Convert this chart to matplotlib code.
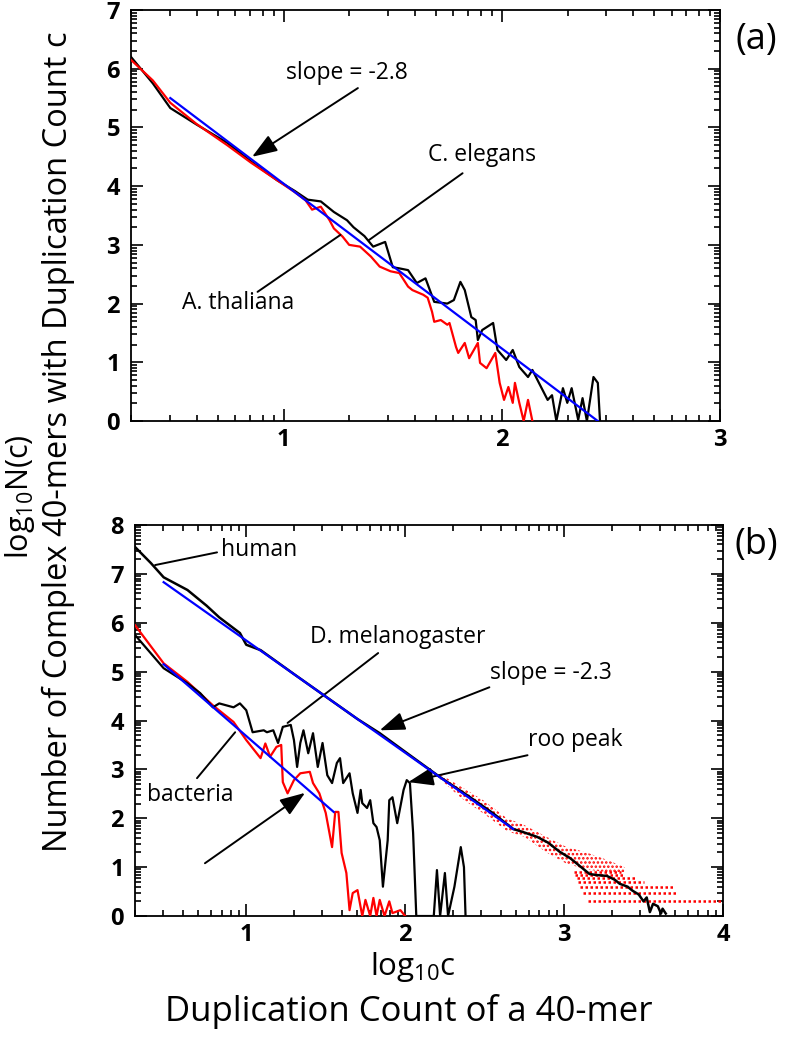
import numpy as np
import matplotlib
matplotlib.use("Agg")
import matplotlib.pyplot as plt

plt.rcParams["font.family"] = ["Open Sans", "DejaVu Sans"]
plt.rcParams["mathtext.fontset"] = "custom"
plt.rcParams["mathtext.rm"] = "Open Sans"
plt.rcParams["mathtext.it"] = "Open Sans"
plt.rcParams["hatch.linewidth"] = 1.2

# ---- panel (a) data: log10 c vs log10 N(c) ----
eleg_x = [0.30, 0.40, 0.48, 0.60, 0.74, 0.85, 0.97, 1.05, 1.11, 1.17, 1.23, 1.29, 1.32, 1.37,
          1.41, 1.465, 1.50, 1.53, 1.57, 1.61, 1.65, 1.69, 1.75, 1.78, 1.81, 1.83, 1.86, 1.88,
          1.89, 1.91, 1.96, 1.98, 2.02, 2.05, 2.08, 2.12, 2.14, 2.17, 2.21, 2.23, 2.25, 2.28,
          2.30, 2.32, 2.35, 2.37, 2.39, 2.42, 2.44, 2.45]
eleg_y = [6.20, 5.75, 5.33, 5.05, 4.74, 4.42, 4.10, 3.92, 3.77, 3.74, 3.56, 3.42, 3.30, 3.15,
          2.97, 3.05, 2.62, 2.60, 2.57, 2.35, 2.43, 2.03, 2.00, 2.06, 2.37, 2.23, 1.77, 1.72,
          1.38, 1.55, 1.67, 1.21, 1.04, 1.21, 0.92, 0.75, 0.87, 0.65, 0.36, 0.44, 0.00, 0.56,
          0.31, 0.56, 0.02, 0.39, 0.00, 0.75, 0.65, 0.00]

thal_x = [0.30, 0.40, 0.48, 0.60, 0.74, 0.85, 0.97, 1.05, 1.10, 1.13, 1.17, 1.21, 1.23, 1.27,
          1.30, 1.35, 1.40, 1.44, 1.49, 1.53, 1.57, 1.59, 1.64, 1.66, 1.68, 1.69, 1.72, 1.75,
          1.76, 1.79, 1.80, 1.83, 1.85, 1.89, 1.90, 1.93, 1.97, 1.99, 2.01, 2.03, 2.05, 2.06,
          2.08, 2.10, 2.12, 2.14]
thal_y = [6.15, 5.80, 5.42, 5.06, 4.70, 4.40, 4.10, 3.90, 3.76, 3.60, 3.65, 3.42, 3.28, 3.14,
          3.00, 2.97, 2.80, 2.63, 2.55, 2.52, 2.29, 2.23, 2.15, 2.10, 1.86, 1.69, 1.72, 1.64,
          1.67, 1.26, 1.16, 1.33, 1.07, 1.33, 0.99, 0.90, 1.16, 0.65, 0.36, 0.58, 0.31, 0.65,
          0.31, 0.00, 0.36, 0.00]

fit_a_x = [0.48, 2.44]
fit_a_y = [5.50, 0.00]

# ---- panel (b) data ----
human_x = [0.30, 0.40, 0.48, 0.63, 0.75, 0.83, 0.96, 1.00, 1.09, 1.30, 1.50, 1.70, 1.84, 2.00,
           2.22, 2.40, 2.55, 2.68, 2.74, 2.83, 2.90, 2.97, 3.04, 3.10, 3.16, 3.20, 3.27, 3.32,
           3.35, 3.40, 3.43, 3.47, 3.50, 3.52, 3.54, 3.56, 3.59, 3.61, 3.62, 3.64]
human_y = [7.55, 7.22, 6.93, 6.67, 6.35, 6.11, 5.79, 5.55, 5.44, 4.95, 4.49, 4.03, 3.74, 3.36,
           2.84, 2.45, 2.11, 1.78, 1.72, 1.62, 1.50, 1.32, 1.18, 1.02, 0.86, 0.84, 0.82, 0.74,
           0.66, 0.60, 0.52, 0.44, 0.30, 0.38, 0.08, 0.25, 0.20, 0.05, 0.15, 0.05]

# raw human counts: scatter cloud around the curve, and the flat count levels at high c
cloud_x = [2.22, 2.35, 2.50, 2.64, 2.75, 2.89, 3.01, 3.14, 3.27, 3.38]
cloud_hi = [2.90, 2.65, 2.35, 2.00, 1.86, 1.62, 1.42, 1.30, 1.15, 1.00]
cloud_lo = [2.80, 2.42, 2.08, 1.74, 1.62, 1.30, 1.08, 0.95, 0.90, 0.90]
band_count = [2, 3, 4, 5, 6, 7, 8]
band_start = [3.15, 3.12, 3.10, 3.09, 3.08, 3.07, 3.06]
band_end = [4.00, 3.71, 3.69, 3.50, 3.46, 3.38, 3.36]

fit_h_x = [0.48, 2.68]
fit_h_y = [6.83, 1.78]

bact_x = [0.30, 0.48, 0.63, 0.79, 0.92, 1.00, 1.09, 1.12, 1.15, 1.19, 1.22, 1.23, 1.26, 1.30,
          1.34, 1.40, 1.42, 1.46, 1.50, 1.54, 1.56, 1.58, 1.60, 1.63, 1.65, 1.67, 1.70, 1.73,
          1.75, 1.78, 1.80, 1.82, 1.84, 1.87, 1.90, 1.92, 1.97, 2.00]
bact_y = [5.95, 5.17, 4.79, 4.31, 3.97, 3.60, 3.23, 3.53, 3.26, 3.46, 3.50, 2.74, 2.51, 2.78,
          2.92, 2.95, 2.72, 2.51, 2.11, 1.41, 2.13, 2.13, 1.29, 0.88, 0.12, 0.47, 0.53, 0.00,
          0.33, 0.00, 0.37, 0.00, 0.33, 0.00, 0.30, 0.06, 0.12, 0.00]

fit_b_x = [0.48, 1.55]
fit_b_y = [5.15, 2.13]

dmel_x = [0.30, 0.48, 0.63, 0.71, 0.79, 0.83, 0.92, 0.96, 1.00, 1.04, 1.11, 1.13, 1.17, 1.20,
          1.23, 1.28, 1.30, 1.32, 1.34, 1.36, 1.39, 1.42, 1.45, 1.48, 1.51, 1.54, 1.57, 1.59,
          1.61, 1.65, 1.67, 1.70, 1.72, 1.73, 1.76, 1.78, 1.80, 1.82, 1.84, 1.86, 1.89, 1.90,
          1.92, 1.95, 1.99, 2.01, 2.03, 2.05, 2.07, 2.18, 2.20, 2.22, 2.25, 2.27, 2.31, 2.35,
          2.37, 2.38]
dmel_y = [5.75, 5.07, 4.76, 4.56, 4.27, 4.35, 4.27, 4.35, 4.21, 3.76, 3.80, 3.76, 3.80, 3.54,
          3.87, 3.91, 3.60, 3.05, 3.54, 3.80, 3.33, 3.74, 3.05, 3.54, 2.88, 2.72, 3.13, 3.23,
          2.72, 2.92, 2.51, 2.11, 2.58, 2.31, 2.21, 2.37, 1.90, 1.82, 1.55, 0.60, 1.55, 2.37,
          2.43, 1.90, 2.58, 2.78, 2.72, 1.70, 0.00, 0.00, 0.94, 0.00, 0.88, 0.00, 0.60, 1.41,
          1.00, 0.00]


def log_ticks(ax, xmax, ymax):
    """Integer majors, log-spaced minors, all ticks pointing inward on four sides."""
    xmin = 0.3
    minor_x = [n + np.log10(k) for n in range(0, xmax) for k in range(2, 10)]
    minor_x = [p for p in minor_x if xmin < p < xmax]
    minor_y = [n + np.log10(k) for n in range(0, ymax) for k in range(2, 10)]
    ax.set_xticks(list(range(1, xmax + 1)))
    ax.set_xticks(minor_x, minor=True)
    ax.set_yticks(list(range(0, ymax + 1)))
    ax.set_yticks(minor_y, minor=True)
    ax.set_xlim(xmin, xmax)
    ax.set_ylim(0, ymax)
    ax.tick_params(which="both", direction="in", top=True, right=True,
                   bottom=True, left=True, color="black", width=1.2)
    ax.tick_params(which="major", length=8.5, labelsize=17)
    ax.tick_params(which="minor", length=4.5)
    ax.tick_params(axis="x", which="major", pad=5)
    ax.tick_params(axis="y", which="major", pad=8)
    for lab in ax.get_xticklabels() + ax.get_yticklabels():
        lab.set_fontweight("bold")
    for s in ax.spines.values():
        s.set_linewidth(1.3)


arrow = dict(arrowstyle="-|>,head_length=1.1,head_width=0.4", color="black",
             lw=1.4, shrinkA=0, shrinkB=0, mutation_scale=14)
plain = dict(arrowstyle="-", color="black", lw=1.4, shrinkA=0, shrinkB=0)
txt = dict(fontsize=16.5, ha="center", va="center")

fig = plt.figure(figsize=(7.86, 10.5), dpi=100)
ax1 = fig.add_axes([0.1667, 0.599, 0.7493, 0.3915])
ax2 = fig.add_axes([0.1718, 0.1276, 0.7480, 0.3724])

# panel (a)
ax1.plot(eleg_x, eleg_y, color="black", lw=1.6, zorder=3)
ax1.plot(thal_x, thal_y, color="red", lw=1.6, zorder=3)
ax1.plot(fit_a_x, fit_a_y, color="blue", lw=1.6, zorder=4)
ax1.annotate("", xy=(0.855, 4.50), xytext=(1.34, 5.67), arrowprops=arrow)
ax1.text(1.29, 5.93, "slope = -2.8", **txt)
ax1.annotate("", xy=(1.39, 3.08), xytext=(1.82, 4.22), arrowprops=plain)
ax1.text(1.91, 4.53, "C. elegans", **txt)
ax1.annotate("", xy=(1.26, 3.17), xytext=(0.88, 2.20), arrowprops=plain)
ax1.text(0.79, 2.01, "A. thaliana", **txt)
log_ticks(ax1, 3, 7)

# panel (b)
ax2.fill_between(cloud_x, cloud_lo, cloud_hi, facecolor="none", edgecolor="red",
                 hatch="....", linewidth=0, zorder=2)
for k, x0, x1 in zip(band_count, band_start, band_end):
    lv = np.log10(k)
    ax2.plot([x0, x1], [lv, lv], color="red", lw=1.8, ls=(0, (1, 1)), zorder=2)
ax2.plot(human_x, human_y, color="black", lw=1.8, zorder=3)
ax2.plot(fit_h_x, fit_h_y, color="blue", lw=1.6, zorder=4)
ax2.plot(bact_x, bact_y, color="red", lw=1.6, zorder=3)
ax2.plot(dmel_x, dmel_y, color="black", lw=1.6, zorder=3)
ax2.plot(fit_b_x, fit_b_y, color="blue", lw=1.6, zorder=4)

ax2.annotate("", xy=(0.426, 7.18), xytext=(0.816, 7.44), arrowprops=plain)
ax2.text(1.08, 7.48, "human", **txt)
ax2.annotate("", xy=(1.26, 3.95), xytext=(1.83, 5.38), arrowprops=plain)
ax2.text(1.955, 5.71, "D. melanogaster", **txt)
ax2.annotate("", xy=(1.84, 3.80), xytext=(2.53, 4.68), arrowprops=arrow)
ax2.text(2.92, 4.97, "slope = -2.3", **txt)
ax2.annotate("", xy=(2.02, 2.74), xytext=(2.77, 3.29), arrowprops=arrow)
ax2.text(3.07, 3.60, "roo peak", **txt)
ax2.annotate("", xy=(0.93, 3.76), xytext=(0.69, 2.82), arrowprops=plain)
ax2.text(0.65, 2.47, "bacteria", **txt)
ax2.annotate("", xy=(1.37, 2.52), xytext=(0.74, 1.08), arrowprops=arrow)
log_ticks(ax2, 4, 8)

fig.text(0.962, 0.962, "(a)", fontsize=26, ha="center", va="center")
fig.text(0.962, 0.481, "(b)", fontsize=26, ha="center", va="center")
fig.text(0.026, 0.527, r"log$_{10}$N(c)", fontsize=22, rotation=90, ha="center", va="center")
fig.text(0.074, 0.579, "Number of Complex 40-mers with Duplication Count c", fontsize=23.5,
         rotation=90, ha="center", va="center")
fig.text(0.525, 0.079, r"log$_{10}$c", fontsize=22.5, ha="center", va="center")
fig.text(0.52, 0.037, "Duplication Count of a 40-mer", fontsize=25, ha="center", va="center")

fig.savefig("out.png", dpi=100)
